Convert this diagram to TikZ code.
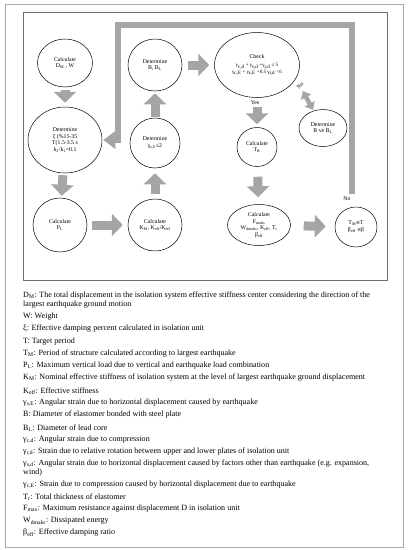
\documentclass[tikz,border=0pt]{standalone}
\usepackage{fontspec}
\setmainfont{Liberation Serif}
\newfontfamily\dvs{DejaVu Sans}
\usetikzlibrary{shapes.geometric,arrows.meta}
\definecolor{arrowgray}{RGB}{165,165,165}
\definecolor{outerframe}{RGB}{170,170,170}
\definecolor{innerframe}{RGB}{110,110,110}
\newcommand\sbs[1]{\textsubscript{#1}}
\newcommand\approxeq{{\dvs\fontsize{4.6}{5}\selectfont ≅}}
\tikzset{
  flownode/.style={ellipse, draw=black, line width=0.5pt, align=center, inner sep=0pt,
    font=\fontsize{5.8}{6.8}\selectfont},
  blk/.style={draw=arrowgray, line width=9pt, -{Triangle[length=11pt,width=22pt]}},
  dblarr/.style={draw=arrowgray, line width=4.5pt, {Triangle[length=7pt,width=11pt]}-{Triangle[length=7pt,width=11pt]}},
  feedback/.style={draw=arrowgray, line width=6pt, line join=miter, -{Triangle[length=12pt,width=17pt]}},
  lbl/.style={font=\fontsize{5.8}{6.8}\selectfont, inner sep=0pt},
  legend/.style={anchor=west, inner sep=0pt, font=\fontsize{8.05}{9}\selectfont},
}
\begin{document}
\begin{tikzpicture}[x=1pt,y=-1pt]
\useasboundingbox (0,0) rectangle (408,550);
\fill[white] (0,0) rectangle (408,550);
\draw[outerframe, line width=0.8pt] (5,4) rectangle (403,547);
\draw[innerframe, line width=0.7pt] (23,12) rectangle (387,280);

% nodes
\node[flownode, minimum width=55pt, minimum height=48pt] (D) at (65,63) {Calculate\\D\sbs{M} , W};
\node[flownode, minimum width=74pt, minimum height=66pt] (xi) at (65,140) {Determine\\ξ (\%15-35\\T(1.5-3.5 s\\k\sbs{2}/k\sbs{1}=0.1};
\node[flownode, minimum width=54pt, minimum height=54pt] (PL) at (60,225) {Calculate\\P\sbs{L}};
\node[flownode, minimum width=54pt, minimum height=52pt] (K) at (155,225) {Calculate\\K\sbs{M}, K\sbs{eff}/K\sbs{eff}};
\node[flownode, minimum width=50pt, minimum height=50pt] (gam) at (155,143) {Determine\\γ\sbs{s,E}≤2};
\node[flownode, minimum width=54pt, minimum height=52pt] (B) at (155,65) {Determine\\B, B\sbs{L}};
\node[flownode, minimum width=85pt, minimum height=65pt] (Check) at (257,65) {Check\\[1pt]
  {\fontsize{5}{6}\selectfont γ\sbs{c,d} + γ\sbs{s,d} +γ\sbs{r,d} ≤ 5}\\
  {\fontsize{5}{6}\selectfont γ\sbs{c,E} + γ\sbs{s,E} +0.5 γ\sbs{r,d} <6}};
\node[flownode, minimum width=48pt, minimum height=37pt] (BB) at (323,128) {Determine\\B ve B\sbs{L}};
\node[flownode, minimum width=40pt, minimum height=39pt] (TR) at (257,147) {Calculate\\T\sbs{R}};
\node[flownode, minimum width=63pt, minimum height=41pt] (F) at (259,225) {Calculate\\F\sbs{maks}\\W\sbs{dmaks}, K\sbs{eff}, T\sbs{r}\\β\sbs{eff}};
\node[flownode, minimum width=42pt, minimum height=40pt] (fin) at (356,227) {T\sbs{M}\approxeq T\\β\sbs{eff} \approxeq β};

\node[lbl] (yes) at (255,103) {Yes};
\node[lbl, rotate=45] (no1) at (300,86) {No};
\node[lbl] (no2) at (347,199) {No};

\coordinate (c1) at (352,25);
\coordinate (c2) at (118,25);

% arrows
\draw[blk, shorten <=3pt, shorten >=4pt] (D) -- (xi);
\draw[blk, shorten <=2pt, shorten >=2pt] (xi) -- (PL);
\draw[blk, shorten <=5pt, shorten >=5pt] (PL) -- (K);
\draw[blk, shorten <=5pt, shorten >=5pt] (K) -- (gam);
\draw[blk, shorten <=1pt, shorten >=2pt] (gam) -- (B);
\draw[blk, shorten <=6pt, shorten >=5pt] (B) -- (Check);
\draw[blk, shorten <=9pt, shorten >=3pt] (Check) -- (TR);
\draw[blk, shorten <=10pt, shorten >=7pt] (TR) -- (F);
\draw[blk, shorten <=13pt, shorten >=9pt] (F) -- (fin);
\draw[dblarr, shorten <=3.5pt, shorten >=1pt] (no1) -- (BB);
\draw[feedback, shorten >=1pt] (no2.north -| c1) ++(0,-3) -- (c1) -- (c2) |- (xi);

% legend
\node[legend] (l1) at (23,296) {D\sbs{M}: The total displacement in the isolation system effective stiffness center considering the direction of the};
\node[legend] (l2) at (23,305) {largest earthquake ground motion};
\node[legend] (l3) at (23,317) {W: Weight};
\node[legend] (l4) at (23,329) {ξ: Effective damping percent calculated in isolation unit};
\node[legend] (l5) at (23,342) {T: Target period};
\node[legend] (l6) at (23,354) {T\sbs{M}: Period of structure calculated according to largest earthquake};
\node[legend] (l7) at (23,366) {P\sbs{L}: Maximum vertical load due to vertical and earthquake load combination};
\node[legend] (l8) at (23,378) {K\sbs{M}: Nominal effective stiffness of isolation system at the level of largest earthquake ground displacement};
\node[legend] (l9) at (23,391) {K\sbs{eff}: Effective stiffness};
\node[legend] (l10) at (23,403) {γ\sbs{s,E}: Angular strain due to horizontal displacement caused by earthquake};
\node[legend] (l11) at (23,415) {B: Diameter of elastomer bonded with steel plate};
\node[legend] (l12) at (23,428) {B\sbs{L}: Diameter of lead core};
\node[legend] (l13) at (23,440) {γ\sbs{c,d}: Angular strain due to compression};
\node[legend] (l14) at (23,452) {γ\sbs{r,d}: Strain due to relative rotation between upper and lower plates of isolation unit};
\node[legend] (l15) at (23,464) {γ\sbs{s,d}: Angular strain due to horizontal displacement caused by factors other than earthquake (e.g. expansion,};
\node[legend] (l16) at (23,473) {wind)};
\node[legend] (l17) at (23,485) {γ\sbs{c,E}: Strain due to compression caused by horizontal displacement due to earthquake};
\node[legend] (l18) at (23,497) {T\sbs{r}: Total thickness of elastomer};
\node[legend] (l19) at (23,509) {F\sbs{max}: Maximum resistance against displacement D in isolation unit};
\node[legend] (l20) at (23,521) {W\sbs{dmaks}: Dissipated energy};
\node[legend] (l21) at (23,533) {β\sbs{eff}: Effective damping ratio};
\end{tikzpicture}
\end{document}
